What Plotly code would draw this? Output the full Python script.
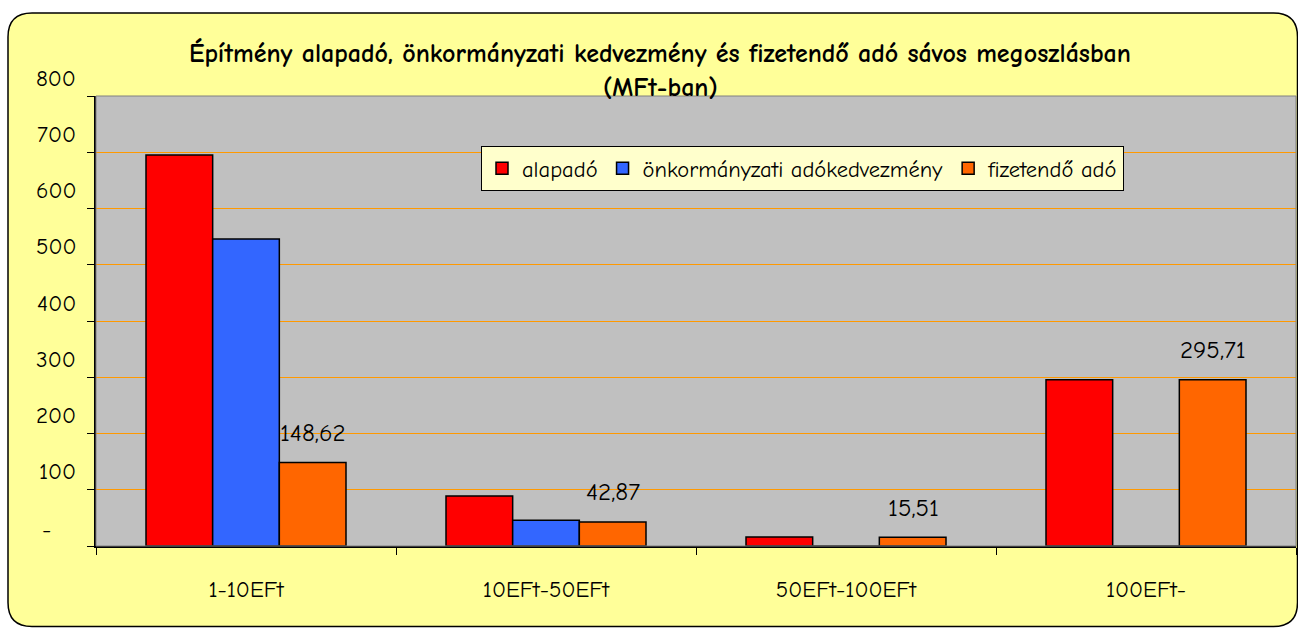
import plotly.graph_objects as go

categories = ["1-10EFt", "10EFt-50EFt", "50EFt-100EFt", "100EFt-"]
alapado = [695, 89, 16, 295.71]
kedvezmeny = [546, 46, 0, 0]
fizetendo = [148.62, 42.87, 15.51, 295.71]
series_names = ["alapadó", "önkormányzati adókedvezmény", "fizetendő adó"]
series_colors = ["#FF0000", "#3366FF", "#FF6600"]
y_ticks = [0, 100, 200, 300, 400, 500, 600, 700, 800]
y_tick_labels = ["-", "100", "200", "300", "400", "500", "600", "700", "800"]

FONT = "Comic Sans MS, Comic Neue, DejaVu Sans, sans-serif"
W, H = 1298, 628
L, R, T, B = 96, 1296, 96, 546  # plot area in pixels


def px(x):
    return (x - L) / (R - L)


def py(y):
    return (B - y) / (B - T)


fig = go.Figure()
for name, vals, col in zip(series_names, [alapado, kedvezmeny, fizetendo], series_colors):
    fig.add_trace(go.Bar(
        x=categories, y=vals, name=name,
        marker=dict(color=col, line=dict(color="#000000", width=1.5)),
        hoverinfo="x+y+name",
    ))

# rounded chart border
x0, y0, x1, y1, r = 8, 13, 1297.5, 626.5, 24
path = (f"M {px(x0 + r)},{py(y0)} L {px(x1 - r)},{py(y0)} "
        f"Q {px(x1)},{py(y0)} {px(x1)},{py(y0 + r)} "
        f"L {px(x1)},{py(y1 - r)} Q {px(x1)},{py(y1)} {px(x1 - r)},{py(y1)} "
        f"L {px(x0 + r)},{py(y1)} Q {px(x0)},{py(y1)} {px(x0)},{py(y1 - r)} "
        f"L {px(x0)},{py(y0 + r)} Q {px(x0)},{py(y0)} {px(x0 + r)},{py(y0)} Z")
shapes = [
    dict(type="path", path=path, xref="paper", yref="paper",
         fillcolor="#FFFF99", line=dict(color="#000000", width=1.5), layer="below"),
    dict(type="rect", xref="paper", yref="paper", x0=0, x1=1, y0=0, y1=1,
         fillcolor="#C0C0C0", line=dict(width=0), layer="below"),
    dict(type="rect", xref="paper", yref="paper", x0=0, x1=1, y0=0, y1=1,
         line=dict(color="#808080", width=1), layer="above"),
]

annotations = []
# y tick labels (shifted upward as in reference)
for v, lab in zip(y_ticks, y_tick_labels):
    if lab == "-":
        annotations.append(dict(x=0, xref="paper", y=v, yref="y", text=lab,
                                showarrow=False, xanchor="center", xshift=-50, yshift=17,
                                font=dict(family=FONT, size=23, color="#000000")))
    else:
        annotations.append(dict(x=0, xref="paper", y=v, yref="y", text=lab,
                                showarrow=False, xanchor="right", xshift=-18, yshift=18,
                                font=dict(family=FONT, size=23, color="#000000")))
# data labels over the fizetendő bars
for c, v in zip(categories, fizetendo):
    annotations.append(dict(x=c, xref="x", y=v, yref="y",
                            text=f"{v:.2f}".replace(".", ","),
                            showarrow=False, xshift=67, yshift=30,
                            font=dict(family=FONT, size=25, color="#000000")))
# second title line
annotations.append(dict(x=px(660), xref="paper", y=py(88), yref="paper",
                        text="<b>(MFt-ban)</b>", showarrow=False,
                        xanchor="center", yanchor="middle",
                        font=dict(family=FONT, size=26, color="#000000")))

fig.update_layout(
    width=W, height=H,
    margin=dict(l=L, r=W - R, t=T, b=H - B, pad=0),
    paper_bgcolor="#FFFFFF",
    plot_bgcolor="rgba(0,0,0,0)",
    barmode="group", bargap=1 / 3, bargroupgap=0,
    title=dict(text="<b>Építmény alapadó, önkormányzati kedvezmény és fizetendő adó sávos megoszlásban</b>",
               x=660 / W, xanchor="center", y=1 - 53 / H, yanchor="middle",
               font=dict(family=FONT, size=26, color="#000000")),
    legend=dict(orientation="h", x=px(481), y=py(146), xanchor="left", yanchor="top",
                bgcolor="#FFFFCC", bordercolor="#000000", borderwidth=1,
                font=dict(family=FONT, size=22.5, color="#000000"),
                itemwidth=30, tracegroupgap=0),
    shapes=shapes,
    annotations=annotations,
    showlegend=True,
)
fig.update_xaxes(type="category", showgrid=False, tickson="boundaries", ticks="outside",
                 ticklen=7, tickcolor="#000000", showline=True, linecolor="#000000", linewidth=1.5,
                 ticklabelstandoff=22,
                 tickfont=dict(family=FONT, size=23, color="#000000"))
fig.update_yaxes(range=[0, 800], tickvals=y_ticks, showticklabels=False, ticks="outside",
                 ticklen=7, tickcolor="#000000", showline=True, linecolor="#000000", linewidth=1.5,
                 showgrid=True, gridcolor="#FF9900", gridwidth=1, zeroline=False)

fig.write_html("out.html", config={"displayModeBar": False},
               post_script="document.body.style.margin='0px';")
